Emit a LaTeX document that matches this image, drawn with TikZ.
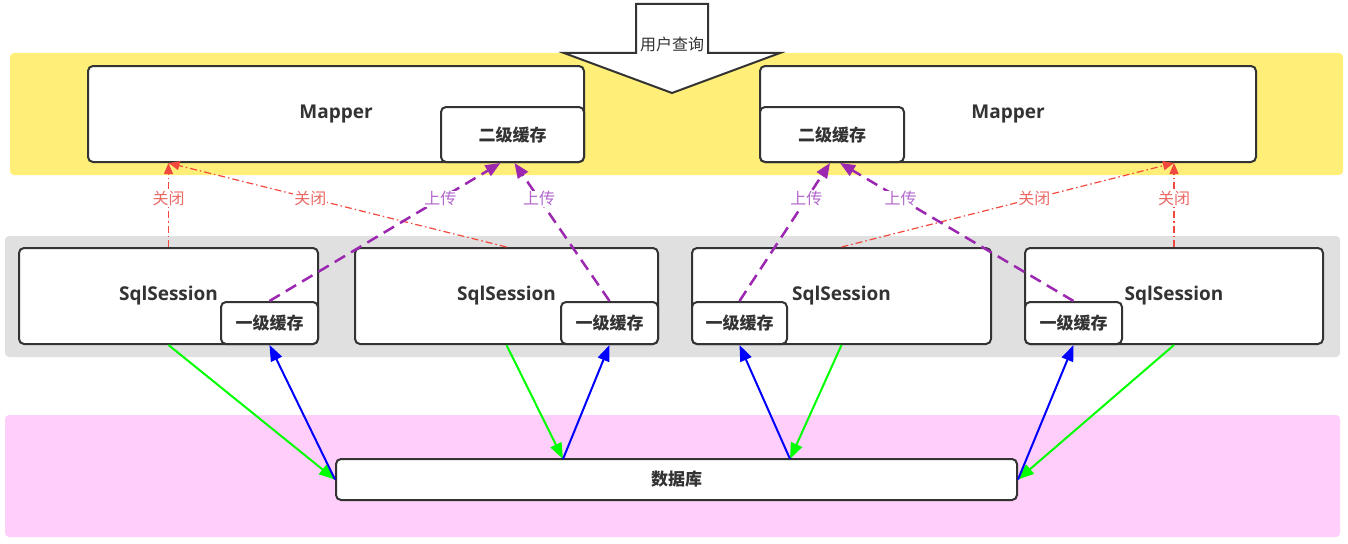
\documentclass[tikz,border=0pt]{standalone}
\usepackage{fontspec}
\setmainfont{Open Sans}
\newfontfamily\cjk{Noto Sans CJK SC}
\usetikzlibrary{arrows.meta}

\definecolor{bandyellow}{HTML}{FFEF79}
\definecolor{bandgray}{HTML}{E0E0E0}
\definecolor{bandpink}{HTML}{FFCEFA}
\definecolor{boxline}{HTML}{333333}
\definecolor{closeline}{HTML}{F2483E}
\definecolor{closetext}{HTML}{EA6B66}
\definecolor{upline}{HTML}{9C27B0}
\definecolor{uptext}{HTML}{B266CC}

\begin{document}
\begin{tikzpicture}[x=1pt,y=-1pt,
  box/.style={draw=boxline,line width=2pt,rounded corners=5pt,fill=white,
    inner sep=0pt,text=boxline,font=\bfseries\fontsize{19}{22}\selectfont},
  cachebox/.style={box,font=\cjk\bfseries\fontsize{17}{20}\selectfont},
  closearrow/.style={closeline,line width=1.2pt,
    dash pattern=on 7pt off 3pt on 1.5pt off 3pt,
    -{Triangle[length=11pt,width=9pt]}},
  uparrow/.style={upline,line width=2.5pt,dash pattern=on 12pt off 7pt,
    -{Triangle[length=15pt,width=12pt]}},
  closelabel/.style={fill=white,inner sep=1pt,text=closetext,
    font=\cjk\fontsize{16}{19}\selectfont},
  uplabel/.style={fill=white,inner sep=1pt,text=uptext,
    font=\cjk\fontsize{16}{19}\selectfont},
  readarrow/.style={green,line width=2pt,-{Triangle[length=16pt,width=12pt]}},
  fillarrow/.style={blue,line width=2pt,-{Triangle[length=16pt,width=12pt]}}]

\useasboundingbox (0,0) rectangle (1348,543);

% Bands
\fill[bandyellow,rounded corners=4pt] (10,53) rectangle (1343,175);
\fill[bandgray,rounded corners=4pt] (5,236) rectangle (1340,357);
\fill[bandpink,rounded corners=4pt] (5,415) rectangle (1340,537);

% User query arrow
\draw[draw=boxline,line width=2pt,fill=white]
  (636,4) -- (708,4) -- (708,53) -- (780,53) -- (672,93) -- (564,53) -- (636,53) -- cycle;
\node[font=\cjk\fontsize{16}{19}\selectfont,text=boxline] (query) at (672,44) {用户查询};

% Mappers
\node[box,minimum width=496pt,minimum height=96pt] (m1) at (336,114) {Mapper};
\node[cachebox,minimum width=143pt,minimum height=55pt] (m1c) at (512.5,134.5) {二级缓存};
\node[box,minimum width=496pt,minimum height=96pt] (m2) at (1008,114) {Mapper};
\node[cachebox,minimum width=144pt,minimum height=55pt] (m2c) at (832,134.5) {二级缓存};

% SqlSessions
\node[box,minimum width=299pt,minimum height=96pt] (s1) at (168.5,296) {SqlSession};
\node[cachebox,minimum width=97pt,minimum height=42pt] (c1) at (269.5,323) {一级缓存};
\node[box,minimum width=303pt,minimum height=96pt] (s2) at (506.5,296) {SqlSession};
\node[cachebox,minimum width=97pt,minimum height=42pt] (c2) at (609.5,323) {一级缓存};
\node[box,minimum width=299pt,minimum height=96pt] (s3) at (841.5,296) {SqlSession};
\node[cachebox,minimum width=95pt,minimum height=42pt] (c3) at (739.5,323) {一级缓存};
\node[box,minimum width=298pt,minimum height=96pt] (s4) at (1174,296) {SqlSession};
\node[cachebox,minimum width=97pt,minimum height=42pt] (c4) at (1073.5,323) {一级缓存};

% Database
\node[cachebox,minimum width=681pt,minimum height=41pt] (db) at (676.5,479.5) {数据库};
\coordinate (dbA) at (563,459);
\coordinate (dbB) at (790,459);

% Close
\draw[closearrow] (s1.north) -- (s1.north |- m1.south) node[closelabel,pos=0.58] {关闭};
\draw[closearrow] (s2.north) -- (s1.north |- m1.south) node[closelabel,pos=0.58] {关闭};
\draw[closearrow] (s4.north) -- (s4.north |- m2.south) node[closelabel,pos=0.58] {关闭};
\draw[closearrow] (s3.north) -- (s4.north |- m2.south) node[closelabel,pos=0.58] {关闭};

% Upload
\draw[uparrow] (c1.north) -- ([xshift=-12pt]m1c.south) node[uplabel,pos=0.74] {上传};
\draw[uparrow] (c2.north) -- ([xshift=2pt]m1c.south) node[uplabel,pos=0.74] {上传};
\draw[uparrow] (c3.north) -- ([xshift=-2pt]m2c.south) node[uplabel,pos=0.74] {上传};
\draw[uparrow] (c4.north) -- ([xshift=8pt]m2c.south) node[uplabel,pos=0.74] {上传};

% Database reads and cache fills
\draw[readarrow] (s1.south) -- (db.west);
\draw[fillarrow] (db.west) -- (c1.south);
\draw[readarrow] (s2.south) -- (dbA);
\draw[fillarrow] (dbA) -- (c2.south);
\draw[readarrow] (s3.south) -- (dbB);
\draw[fillarrow] (dbB) -- (c3.south);
\draw[readarrow] (s4.south) -- (db.east);
\draw[fillarrow] (db.east) -- (c4.south);

\end{tikzpicture}
\end{document}
